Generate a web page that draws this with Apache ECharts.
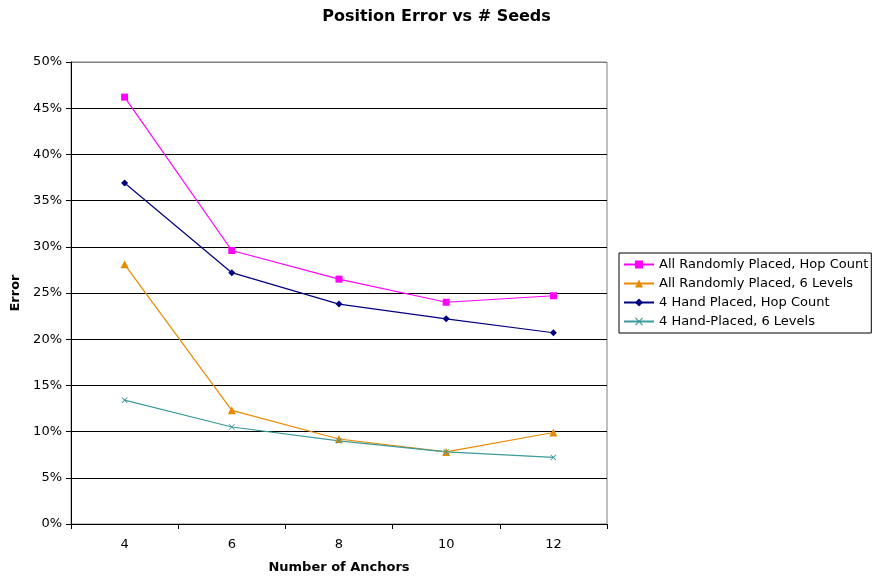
<!DOCTYPE html>
<html>
<head>
<meta charset="utf-8">
<script src="https://cdn.jsdelivr.net/npm/echarts@6/dist/echarts.min.js"></script>
<style>
  html, body { margin: 0; padding: 0; background: #fff; }
  #chart { width: 873px; height: 576px; }
</style>
</head>
<body>
<div id="chart"></div>
<script>
const anchors = ['4', '6', '8', '10', '12'];
const randomHop = [0.462, 0.296, 0.265, 0.240, 0.247];
const random6Levels = [0.281, 0.123, 0.092, 0.078, 0.099];
const handHop = [0.369, 0.272, 0.238, 0.222, 0.207];
const hand6Levels = [0.134, 0.105, 0.090, 0.078, 0.072];

const crossPath = 'path://M1,0L5,4L9,0L10,1L6,5L10,9L9,10L5,6L1,10L0,9L4,5L0,1Z';
const font = 'Verdana, "DejaVu Sans", sans-serif';

const chart = echarts.init(document.getElementById('chart'));

const mkSeries = (name, data, color, symbol, size) => ({
  name: name,
  type: 'line',
  data: data,
  symbol: symbol,
  symbolSize: size,
  showAllSymbol: true,
  lineStyle: { color: color, width: 1.2 },
  itemStyle: { color: color },
  emphasis: { disabled: true },
  animation: false
});

// black gridlines, the top one (50%) is the grey plot border
const gridColors = ['#000', '#000', '#000', '#000', '#000', '#000', '#000', '#000', '#000', '#000', '#808080'];

chart.setOption({
  animation: false,
  textStyle: { fontFamily: font },
  title: {
    text: 'Position Error vs # Seeds',
    left: 'center',
    top: 4,
    textStyle: { fontFamily: font, fontSize: 16, fontWeight: 'bold', color: '#000' }
  },
  legend: {
    orient: 'vertical',
    left: 619,
    top: 253,
    itemGap: 6,
    itemWidth: 30,
    itemHeight: 10,
    padding: [5, 3, 5, 4],
    borderColor: '#000',
    borderWidth: 1,
    textStyle: { fontFamily: font, fontSize: 13, color: '#000' },
    data: ['All Randomly Placed, Hop Count', 'All Randomly Placed, 6 Levels',
           '4 Hand Placed, Hop Count', '4 Hand-Placed, 6 Levels']
  },
  grid: {
    left: 71,
    right: 266,
    top: 62,
    bottom: 52,
    containLabel: false,
    outerBoundsMode: 'none',
    show: true,
    borderColor: '#808080',
    borderWidth: 1
  },
  xAxis: {
    type: 'category',
    data: anchors,
    boundaryGap: true,
    name: 'Number of Anchors',
    nameLocation: 'middle',
    nameGap: 37,
    nameTextStyle: { fontFamily: font, fontSize: 13, fontWeight: 'bold', color: '#000' },
    axisLine: { lineStyle: { color: '#000', width: 1 } },
    axisTick: { show: true, length: 5, lineStyle: { color: '#000' } },
    axisLabel: { fontFamily: font, fontSize: 13, color: '#000', margin: 14 },
    splitLine: { show: false }
  },
  yAxis: {
    type: 'value',
    min: 0,
    max: 0.5,
    interval: 0.05,
    name: 'Error',
    nameLocation: 'middle',
    nameGap: 48,
    nameTextStyle: { fontFamily: font, fontSize: 13, fontWeight: 'bold', color: '#000' },
    axisLine: { show: true, lineStyle: { color: '#000', width: 1 } },
    axisTick: { show: true, length: 5, lineStyle: { color: '#000' } },
    axisLabel: {
      fontFamily: font, fontSize: 13, color: '#000', margin: 9,
      formatter: v => Math.round(v * 100) + '%'
    },
    splitLine: { show: true, lineStyle: { color: gridColors, width: 1 } }
  },
  series: [
    mkSeries('All Randomly Placed, Hop Count', randomHop, '#FF00FF', 'rect', 7),
    mkSeries('All Randomly Placed, 6 Levels', random6Levels, '#E88A00', 'triangle', 8),
    mkSeries('4 Hand Placed, Hop Count', handHop, '#000080', 'diamond', 7),
    mkSeries('4 Hand-Placed, 6 Levels', hand6Levels, '#3C9A9A', crossPath, 6)
  ]
});
</script>
</body>
</html>
